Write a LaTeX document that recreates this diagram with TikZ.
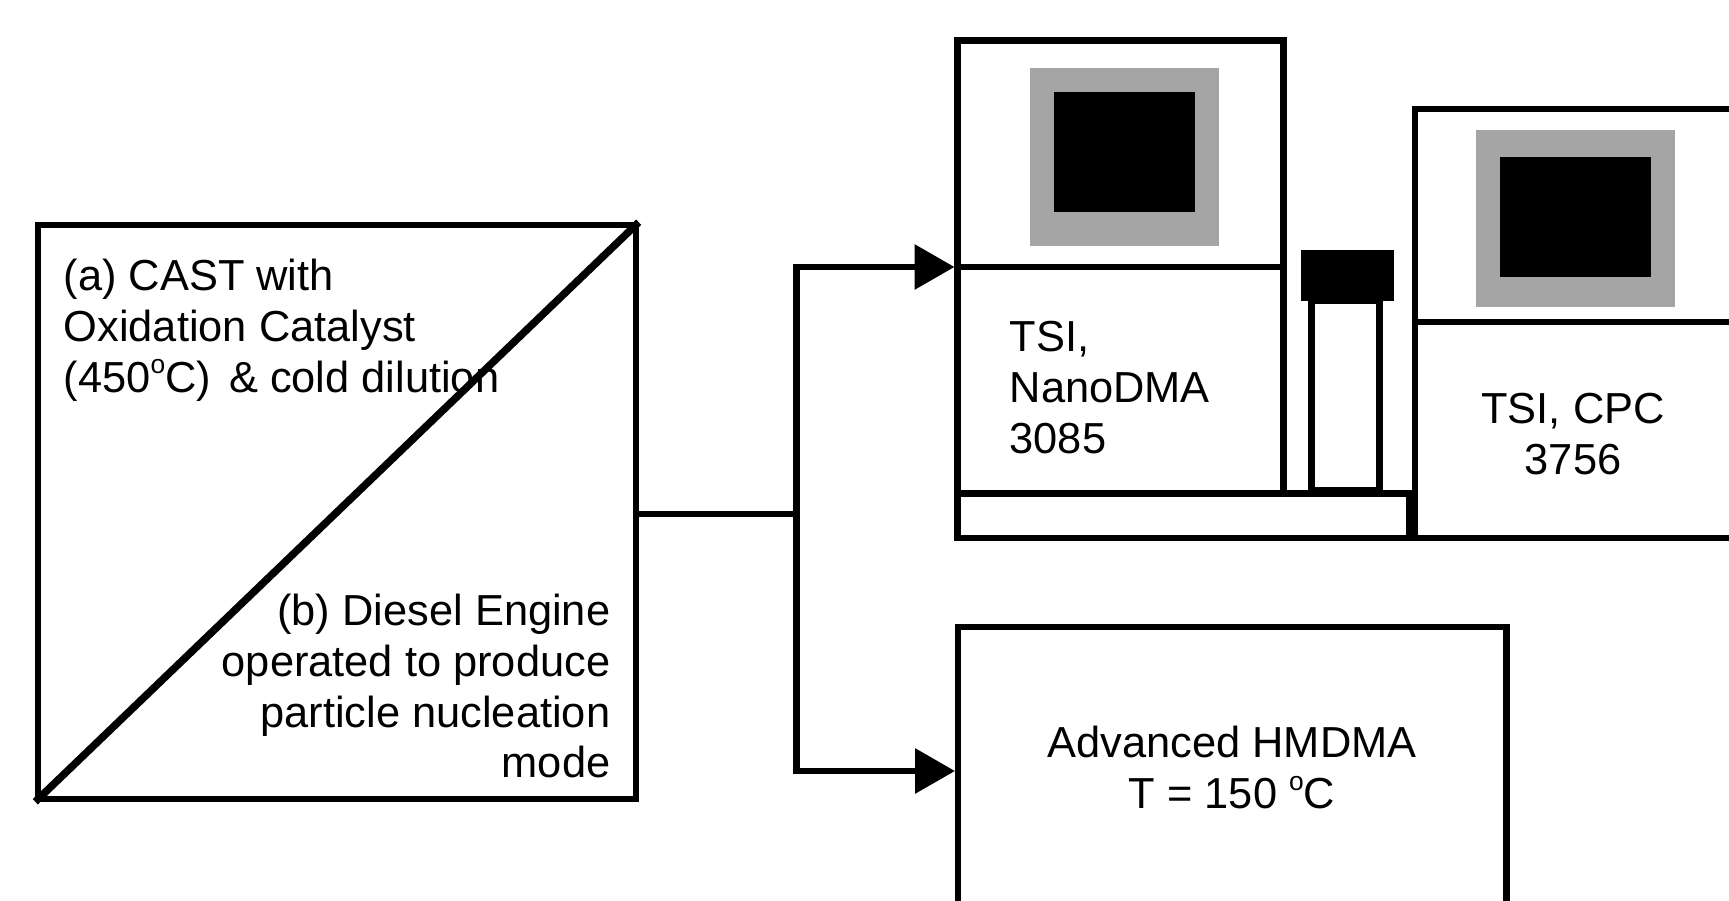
\documentclass[tikz,border=0pt]{standalone}
\usepackage{fontspec}
\setmainfont{Liberation Sans}
\usepackage{tikz}
\usetikzlibrary{arrows.meta}
\definecolor{screengray}{HTML}{A5A5A5}
\newcommand{\degmark}{\raisebox{0.42em}{\fontsize{7.5}{7.5}\selectfont o}}

\begin{document}
\begin{tikzpicture}[
    box/.style={
        draw,
        line width=0.065cm,
        outer sep=0pt,
        inner sep=0pt,
        align=center
    },
    panel/.style={
        fill,
        outer sep=0pt,
        inner sep=0pt
    },
    label/.style={
        inner sep=0pt,
        font=\fontsize{12.35}{14.5}\selectfont
    },
    arrow/.style={
        -{Triangle[length=0.4cm, width=0.44cm]},
        line width=0.065cm,
        shorten >=0.03cm
    }
]
\clip (0, 0) rectangle (17.29, 9);

% Source box
\node[box, minimum width=5.976cm, minimum height=5.74cm] (source) at (3.37, 3.88) {};
\node[label, align=left, anchor=west] (castlabel) at (0.63, 5.70) {
    (a) CAST with\\
    Oxidation Catalyst\\
    (450\degmark C)\hspace{0.18cm}\& cold dilution
};
\node[label, align=right, anchor=east] (diesellabel) at (6.11, 2.14) {
    (b) Diesel Engine\\
    operated to produce\\
    particle nucleation\\
    mode
};
\draw[line width=0.075cm, shorten <=-0.04cm, shorten >=-0.04cm] (source.south west) -- (source.north east);

% NanoDMA
\node[box, minimum width=3.26cm, minimum height=2.265cm] (dmatop) at (11.205, 7.4625) {};
\node[box, minimum width=3.26cm, minimum height=2.265cm] (dmalow) at (11.205, 5.1975) {};
\node[label, align=left, anchor=west] (dmalabel) at (10.09, 5.12) {
    TSI,\\
    NanoDMA\\
    3085
};
\node[panel, color=screengray, minimum width=1.89cm, minimum height=1.776cm] (dmascreen) at (11.245, 7.432) {};
\node[panel, color=black, minimum width=1.412cm, minimum height=1.2cm] (dmadisplay) at (11.244, 7.48) {};
\node[box, minimum width=4.515cm, minimum height=0.445cm] (base) at (11.8325, 3.8425) {};

% Tube between the two
\node[box, minimum width=0.677cm, minimum height=1.89cm] (tube) at (13.455, 5.045) {};
\node[panel, color=black, minimum width=0.93cm, minimum height=0.51cm] (tubecap) at (13.475, 6.245) {};

% CPC
\node[box, minimum width=3.2cm, minimum height=2.13cm] (cpctop) at (15.75, 6.845) {};
\node[box, minimum width=3.2cm, minimum height=2.16cm] (cpclow) at (15.75, 4.70) {};
\node[label, align=center] (cpclabel) at (15.73, 4.655) {
    TSI, CPC\\
    3756
};
\node[panel, color=screengray, minimum width=1.993cm, minimum height=1.775cm] (cpcscreen) at (15.754, 6.8125) {};
\node[panel, color=black, minimum width=1.513cm, minimum height=1.2cm] (cpcdisplay) at (15.754, 6.83) {};

% HMDMA
\node[box, minimum width=5.486cm, minimum height=2.88cm] (hmdma) at (12.323, 1.29) {};
\node[label, align=center] (hmdmalabel) at (12.32, 1.325) {
    Advanced HMDMA\\
    T = 150 \degmark C
};

% Arrows
\coordinate (branch) at (7.965, 3.86);
\draw[line width=0.065cm] (source.east |- branch) -- (branch);
\draw[arrow] (branch) |- (dmalow.north west);
\draw[arrow] (branch) |- (hmdma.west);

\end{tikzpicture}
\end{document}
